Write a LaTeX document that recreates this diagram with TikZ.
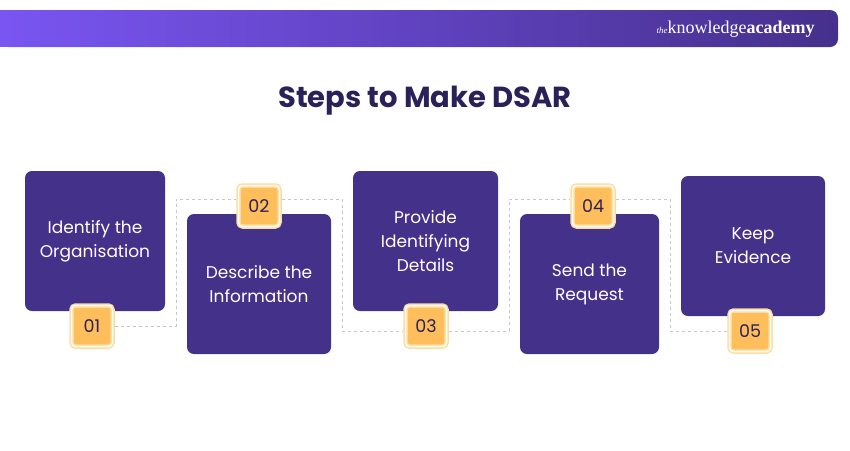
\documentclass[tikz,border=0pt]{standalone}
\usepackage{fontspec}
\setmainfont{Poppins}
\newfontfamily\logofont{Liberation Serif}
\usetikzlibrary{positioning}
\definecolor{stepviolet}{HTML}{43318A}
\definecolor{titlenavy}{HTML}{2A2159}
\definecolor{badgeorange}{HTML}{FFBE5C}
\definecolor{badgerim}{HTML}{FFDC9C}
\definecolor{barleft}{HTML}{7A55F2}
\definecolor{barright}{HTML}{45308C}
\tikzset{every picture/.style={line width=0.75pt}}
\tikzset{
  stepbox/.style={fill=stepviolet, rounded corners=7pt, minimum width=#1, align=center,
    text=white, font=\fontsize{17}{24}\selectfont, inner sep=0pt},
  badge/.style={fill=badgeorange, draw=badgerim, line width=1.5pt, double=white, double distance=1.5pt,
    rounded corners=4pt, minimum width=41pt, minimum height=41pt, text=titlenavy,
    font=\fontsize{17.5}{20}\selectfont, inner sep=0pt},
  link/.style={draw=gray!45, dashed, line width=0.6pt}
}

\begin{document}
\begin{tikzpicture}[x=1pt,y=1pt,yscale=-1]
        \useasboundingbox (0,0) rectangle (850,450);

        %Header bar
        \shade[left color=barleft, right color=barright, rounded corners=8pt]
          (0,10) -- (838,10) -- (838,47) -- (0,47) -- cycle;
        \fill[barleft] (0,10) rectangle (10,47);
        % Logo
        \node[anchor=east, text=white, inner sep=0pt] (logo) at (815,29)
          {\logofont\fontsize{9}{10}\selectfont\itshape the\upshape\fontsize{18}{20}\selectfont knowledge\bfseries academy};

        % Title
        \node[text=titlenavy, font=\fontsize{29}{34}\selectfont\bfseries] (title) at (425,101) {Steps to Make DSAR};

        % Dashed connectors
        \draw[link] (115,326) -- (176,326) -- (176,199) -- (236,199);
        \draw[link] (282,199) -- (342,199) -- (342,331) -- (403,331);
        \draw[link] (449,331) -- (509,331) -- (509,199) -- (570,199);
        \draw[link] (616,199) -- (670,199) -- (670,331) -- (727,331);

        % Step boxes
        \node[stepbox=140pt, minimum height=140pt] (step1) at (95,241) {Identify the\\Organisation};
        \node[stepbox=144pt, minimum height=140pt] (step2) at (259,284) {Describe the\\Information};
        \node[stepbox=145pt, minimum height=140pt] (step3) at (425.5,241) {Provide\\Identifying\\Details};
        \node[stepbox=139pt, minimum height=140pt] (step4) at (589.5,284) {Send the\\Request};
        \node[stepbox=144pt, minimum height=140pt] (step5) at (753,246) {Keep\\Evidence};

        % Badges
        \node[badge] (num1) at (92,326) {01};
        \node[badge] (num2) at (259,206) {02};
        \node[badge] (num3) at (426,326) {03};
        \node[badge] (num4) at (593,206) {04};
        \node[badge] (num5) at (750,331) {05};

\end{tikzpicture}
\end{document}
